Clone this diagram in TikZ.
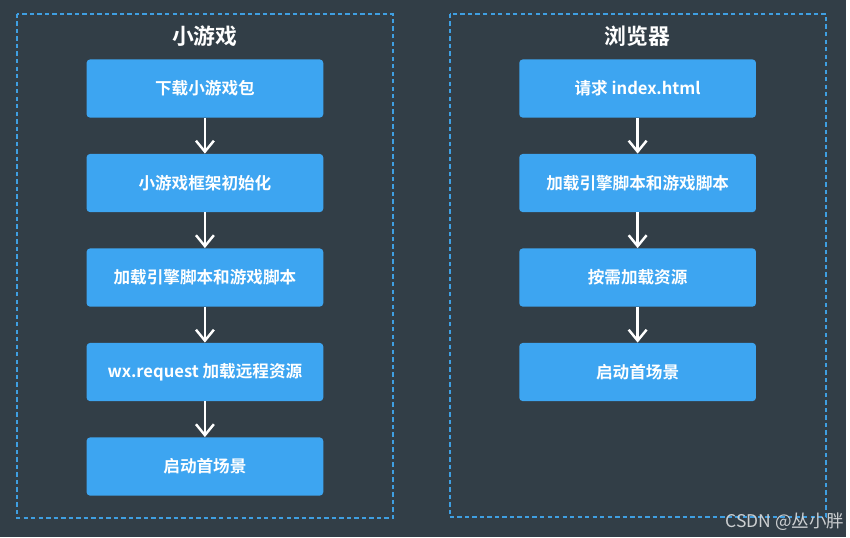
\documentclass[tikz,border=0pt]{standalone}
\usepackage{fontspec}
\newfontfamily\cjk{Noto Sans CJK SC}
\newfontfamily\cjkbold{Noto Sans CJK SC Bold}
\usetikzlibrary{arrows.meta}
\definecolor{bgdark}{HTML}{323E47}
\definecolor{boxblue}{HTML}{3DA5F1}
\definecolor{frameblue}{HTML}{3F9FE2}

\begin{document}
\begin{tikzpicture}[x=0.02cm, y=-0.02cm,
	flowbox/.style={fill=boxblue, rounded corners=0.07cm, minimum width=4.76cm, minimum height=1.17cm, text=white, font=\cjkbold\fontsize{9.5}{11}\selectfont, inner sep=0pt},
	flowarrow/.style={draw=white, line width=1.4pt, -{Straight Barb[length=2.2mm, width=3.6mm, line width=1.4pt]}},
	frame/.style={draw=frameblue, line width=1pt, dash pattern=on 2.5pt off 1.8pt},
	title/.style={text=white, font=\cjkbold\fontsize{12.5}{14}\selectfont}]
		%%%%% START %%%%%
		\fill[bgdark] (0, 0) rectangle (850, 540);
		
		% left: mini game
		\draw[frame] (17, 14) rectangle (395, 521);
		\node[title] (gtitle) at (206, 36) {小游戏};
		\node[flowbox] (g1) at (206, 89) {下载小游戏包};
		\node[flowbox] (g2) at (206, 184) {小游戏框架初始化};
		\node[flowbox] (g3) at (206, 279) {加载引擎脚本和游戏脚本};
		\node[flowbox] (g4) at (206, 374) {wx.request 加载远程资源};
		\node[flowbox] (g5) at (206, 469) {启动首场景};
		\foreach \a/\b in {g1/g2, g2/g3, g3/g4, g4/g5}
			\draw[flowarrow] (\a) -- (\b);
		
		% right: browser
		\draw[frame] (452, 14) rectangle (830, 520);
		\node[title] (btitle) at (641, 36) {浏览器};
		\node[flowbox] (b1) at (641, 89) {请求 index.html};
		\node[flowbox] (b2) at (641, 184) {加载引擎脚本和游戏脚本};
		\node[flowbox] (b3) at (641, 279) {按需加载资源};
		\node[flowbox] (b4) at (641, 374) {启动首场景};
		\foreach \a/\b in {b1/b2, b2/b3, b3/b4}
			\draw[flowarrow] (\a) -- (\b);
		
		\node[text=white!75!bgdark, font=\cjk\fontsize{10}{12}\selectfont] (mark) at (789, 524) {CSDN @丛小胖};
		%%%%% END %%%%%
	\end{tikzpicture}
\end{document}
